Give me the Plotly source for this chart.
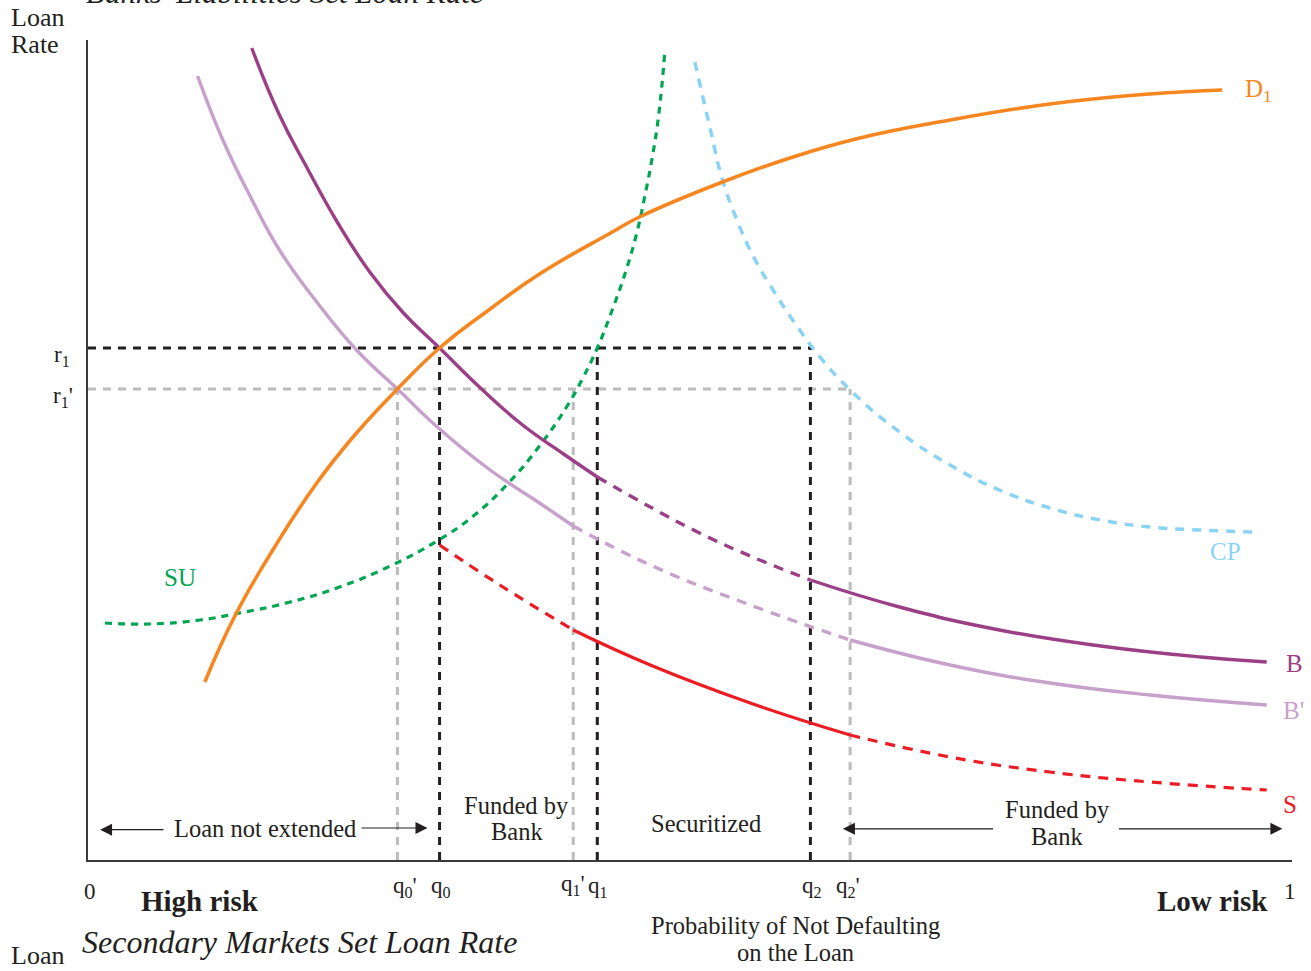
import plotly.graph_objects as go

# ---------------- data (probability of not defaulting, loan rate) ----------------
b_x = [0.136, 0.159, 0.182, 0.207, 0.234, 0.262, 0.292, 0.326, 0.361, 0.395, 0.423, 0.467, 0.508, 0.550,
       0.600, 0.674, 0.757, 0.841, 0.924, 0.979]
b_y = [8.12, 7.45, 6.92, 6.38, 5.88, 5.47, 5.12, 4.72, 4.35, 4.06, 3.83, 3.53, 3.27, 3.04,
       2.80, 2.53, 2.30, 2.14, 2.03, 1.98]

bp_x = [0.091, 0.112, 0.135, 0.159, 0.190, 0.223, 0.257, 0.292, 0.334, 0.375, 0.403, 0.467, 0.550, 0.633,
        0.716, 0.799, 0.882, 0.979]
bp_y = [7.84, 7.20, 6.63, 6.10, 5.58, 5.10, 4.71, 4.31, 3.90, 3.57, 3.34, 2.95, 2.55, 2.20,
        1.95, 1.77, 1.65, 1.55]

s_x = [0.292, 0.342, 0.403, 0.467, 0.550, 0.633, 0.716, 0.799, 0.882, 0.979]
s_y = [3.15, 2.75, 2.30, 1.95, 1.57, 1.25, 1.03, 0.88, 0.78, 0.70]

d_x = [0.097, 0.122, 0.154, 0.190, 0.223, 0.257, 0.292, 0.334, 0.375, 0.434, 0.458, 0.527, 0.583, 0.641,
       0.716, 0.799, 0.882, 0.942]
d_y = [1.78, 2.44, 3.11, 3.77, 4.27, 4.71, 5.12, 5.51, 5.86, 6.27, 6.43, 6.78, 7.02, 7.22,
       7.40, 7.56, 7.66, 7.70]

su_x = [0.014, 0.051, 0.093, 0.126, 0.168, 0.209, 0.251, 0.290, 0.320, 0.350, 0.375, 0.398, 0.411,
        0.423, 0.436, 0.447, 0.456, 0.463, 0.469, 0.474, 0.479]
su_y = [2.37, 2.36, 2.40, 2.47, 2.58, 2.73, 2.94, 3.19, 3.44, 3.78, 4.14, 4.54, 4.82,
        5.12, 5.52, 5.90, 6.28, 6.67, 7.05, 7.45, 8.07]

cp_x = [0.504, 0.517, 0.527, 0.539, 0.552, 0.569, 0.587, 0.608, 0.633, 0.674, 0.716, 0.757, 0.799, 0.841,
        0.882, 0.924, 0.969]
cp_y = [7.98, 7.30, 6.80, 6.40, 6.05, 5.70, 5.37, 5.03, 4.70, 4.28, 3.95, 3.70, 3.52, 3.40,
        3.33, 3.30, 3.28]

q_values = {"q0p": 0.257, "q0": 0.292, "q1p": 0.403, "q1": 0.423, "q2": 0.600, "q2p": 0.633}
r1 = 5.12
r1p = 4.71

FONT = "Liberation Serif, Times New Roman, serif"
BLACK = "#231F20"
GRAY = "#BCBCBC"
ORANGE = "#F6861F"
PURPLE = "#9B3F86"
LPURPLE = "#C7A1CB"
RED = "#EC1C24"
GREEN = "#00A651"
LBLUE = "#8AD3F4"

fig = go.Figure()


def add_line(xs, ys, color, width, dash="solid", spline=True):
    fig.add_trace(go.Scatter(
        x=xs, y=ys, mode="lines",
        line=dict(color=color, width=width, dash=dash,
                  shape="spline" if spline else "linear", smoothing=1.3),
        hoverinfo="skip", showlegend=False))


def segment(xs, ys, x0, x1):
    idx = [i for i, v in enumerate(xs) if x0 - 1e-9 <= v <= x1 + 1e-9]
    return [xs[i] for i in idx], [ys[i] for i in idx]


# reference dashed lines (gray first, black on top)
add_line([0, q_values["q2p"]], [r1p, r1p], GRAY, 3, "8px,7px", False)
for k in ("q0p", "q1p", "q2p"):
    add_line([q_values[k], q_values[k]], [0, r1p], GRAY, 3, "8px,7px", False)
add_line([0, q_values["q2"]], [r1, r1], BLACK, 3, "8px,7px", False)
for k in ("q0", "q1", "q2"):
    add_line([q_values[k], q_values[k]], [0, r1], BLACK, 3, "8px,7px", False)

# SU and CP
add_line(su_x, su_y, GREEN, 3.2, "7px,6px")
add_line(cp_x, cp_y, LBLUE, 3.5, "9px,8px")

# B'
for (a, c, dsh) in [(0, q_values["q1p"], "solid"), (q_values["q1p"], q_values["q2p"], "10px,8px"),
                    (q_values["q2p"], 1, "solid")]:
    sx, sy = segment(bp_x, bp_y, a, c)
    add_line(sx, sy, LPURPLE, 3.4, dsh)

# B
for (a, c, dsh) in [(0, q_values["q1"], "solid"), (q_values["q1"], q_values["q2"], "10px,8px"),
                    (q_values["q2"], 1, "solid")]:
    sx, sy = segment(b_x, b_y, a, c)
    add_line(sx, sy, PURPLE, 3.4, dsh)

# S
for (a, c, dsh) in [(0, q_values["q1p"], "10px,8px"), (q_values["q1p"], q_values["q2p"], "solid"),
                    (q_values["q2p"], 1, "10px,8px")]:
    sx, sy = segment(s_x, s_y, a, c)
    add_line(sx, sy, RED, 3.2, dsh)

# D1
add_line(d_x, d_y, ORANGE, 3.6, "solid")


def txt(x, y, t, size=24.5, color=BLACK):
    fig.add_annotation(x=x, y=y, xref="paper", yref="paper", text=t, showarrow=False,
                       xanchor="center", yanchor="middle",
                       font=dict(family=FONT, size=size, color=color))


# curve labels
txt(0.972, 0.939, "D<sub>1</sub>", size=25, color=ORANGE)
txt(0.945, 0.376, "CP", size=25, color=LBLUE)
txt(1.002, 0.240, "B", size=25, color=PURPLE)
txt(1.001, 0.182, "B'", size=25, color=LPURPLE)
txt(0.998, 0.068, "S", size=25, color=RED)
txt(0.076, 0.344, "SU", size=25, color=GREEN)

# axis labels
txt(-0.042, 1.028, "Loan", size=26)
txt(-0.044, 0.994, "Rate", size=26)
txt(0.164, 1.058, "<i>Banks' Liabilities Set Loan Rate</i>", size=31)
txt(-0.022, 0.615, "r<sub>1</sub>", size=23)
txt(-0.021, 0.565, "r<sub>1</sub>'", size=23)
txt(0.263, -0.033, "q<sub>0</sub>'", size=23)
txt(0.293, -0.033, "q<sub>0</sub>", size=23)
txt(0.403, -0.031, "q<sub>1</sub>'", size=23)
txt(0.424, -0.033, "q<sub>1</sub>", size=23)
txt(0.601, -0.033, "q<sub>2</sub>", size=23)
txt(0.631, -0.033, "q<sub>2</sub>'", size=23)
txt(0.002, -0.039, "0", size=23)
txt(0.998, -0.039, "1", size=23)
txt(0.093, -0.050, "<b>High risk</b>", size=29)
txt(0.934, -0.050, "<b>Low risk</b>", size=29)
txt(0.588, -0.080, "Probability of Not Defaulting", size=24.5)
txt(0.588, -0.113, "on the Loan", size=24.5)
txt(0.176, -0.100, "<i>Secondary Markets Set Loan Rate</i>", size=32)
txt(-0.042, -0.117, "Loan", size=26)

# region labels
txt(0.147, 0.039, "Loan not extended", size=24.5)
txt(0.356, 0.067, "Funded by", size=24.5)
txt(0.356, 0.035, "Bank", size=24.5)
txt(0.513, 0.044, "Securitized", size=24.5)
txt(0.805, 0.061, "Funded by", size=24.5)
txt(0.805, 0.029, "Bank", size=24.5)


def arrow(x_head, x_tail, y):
    fig.add_annotation(x=x_head, y=y, ax=x_tail, ay=y, xref="x domain", yref="y domain",
                       axref="x domain", ayref="y domain",
                       text="", showarrow=True, arrowhead=2, arrowsize=2, arrowwidth=1.2,
                       arrowcolor=BLACK)


arrow(0.010, 0.064, 0.037)
arrow(0.282, 0.226, 0.039)
arrow(0.627, 0.753, 0.038)
arrow(0.992, 0.855, 0.038)

fig.update_xaxes(range=[0, 1], showgrid=False, zeroline=False, showticklabels=False,
                 showline=True, linecolor="#3A3A3A", linewidth=1.5, ticks="")
fig.update_yaxes(range=[0, 8.2], showgrid=False, zeroline=False, showticklabels=False,
                 showline=True, linecolor="#3A3A3A", linewidth=1.5, ticks="")

fig.update_layout(width=1311, height=971, margin=dict(l=88, r=19, t=40, b=111),
                  plot_bgcolor="white", paper_bgcolor="white", showlegend=False)

fig.write_html("out.html", config={"displayModeBar": False},
               post_script="document.body.style.margin='0';document.body.style.overflow='hidden';")
